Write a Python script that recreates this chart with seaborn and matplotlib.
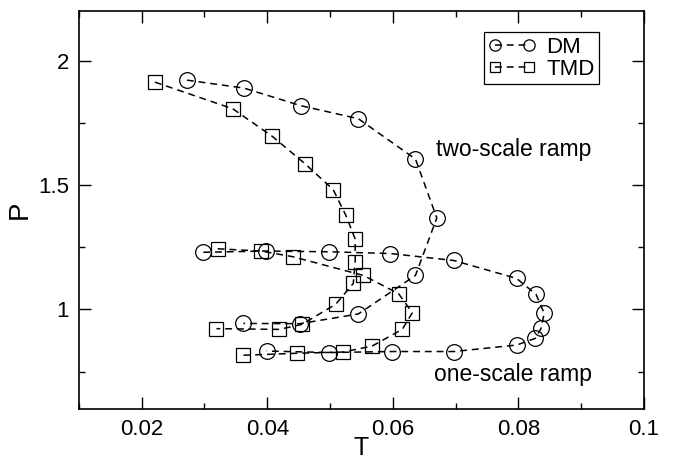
import matplotlib
matplotlib.use("Agg")
import matplotlib.pyplot as plt
import seaborn as sns
import numpy as np
import pandas as pd
from matplotlib.ticker import MultipleLocator, FixedLocator, FixedFormatter

# ---- data ----
dm_two_T = [0.0272, 0.0363, 0.0454, 0.0545, 0.0636, 0.0670, 0.0636, 0.0545, 0.0452, 0.0362]
dm_two_P = [1.922, 1.890, 1.819, 1.767, 1.605, 1.368, 1.137, 0.982, 0.943, 0.944]

tmd_two_T = [0.0221, 0.0345, 0.0408, 0.0460, 0.0505, 0.0525, 0.0540, 0.0540, 0.0537, 0.0509, 0.0455, 0.0419, 0.0319]
tmd_two_P = [1.914, 1.807, 1.696, 1.586, 1.482, 1.379, 1.283, 1.192, 1.105, 1.021, 0.940, 0.920, 0.923]

dm_one_T = [0.0298, 0.0398, 0.0498, 0.0596, 0.0697, 0.0797, 0.0828, 0.0841, 0.0836, 0.0827, 0.0797, 0.0697, 0.0598, 0.0498, 0.0399]
dm_one_P = [1.230, 1.235, 1.232, 1.225, 1.197, 1.125, 1.061, 0.985, 0.924, 0.884, 0.857, 0.831, 0.831, 0.827, 0.833]

tmd_one_T = [0.0321, 0.0390, 0.0441, 0.0553, 0.0609, 0.0631, 0.0615, 0.0567, 0.0521, 0.0447, 0.0361]
tmd_one_P = [1.244, 1.235, 1.212, 1.137, 1.064, 0.987, 0.920, 0.853, 0.829, 0.824, 0.816]

x_ticks = [0.02, 0.04, 0.06, 0.08, 0.1]
x_tick_labels = ["0.02", "0.04", "0.06", "0.08", "0.1"]
y_ticks = [1.0, 1.5, 2.0]
y_tick_labels = ["1", "1.5", "2"]

sns.set_theme(style="ticks")
plt.rcParams['font.family'] = ['Liberation Sans', 'DejaVu Sans']
plt.rcParams.update({"text.color": "black", "axes.labelcolor": "black",
                     "xtick.color": "black", "ytick.color": "black",
                     "axes.edgecolor": "black"})

fig = plt.figure(figsize=(6.75, 4.58), dpi=100)
ax = fig.add_axes([0.1169, 0.107, 0.8372, 0.869])

ls = (0, (4.5, 3.2))
common = dict(color="black", sort=False, estimator=None, linewidth=1.1,
              linestyle=ls, markerfacecolor="none", markeredgecolor="black",
              markeredgewidth=0.9, ax=ax)

sns.lineplot(x=dm_two_T, y=dm_two_P, marker="o", markersize=11.3, label="DM", **common)
sns.lineplot(x=tmd_two_T, y=tmd_two_P, marker="s", markersize=9.4, label="TMD", **common)
sns.lineplot(x=dm_one_T, y=dm_one_P, marker="o", markersize=11.3, label="_nolegend_", **common)
sns.lineplot(x=tmd_one_T, y=tmd_one_P, marker="s", markersize=9.4, label="_nolegend_", **common)

ax.set_xlim(0.01, 0.1)
ax.set_ylim(0.6, 2.2)
ax.xaxis.set_major_locator(FixedLocator(x_ticks))
ax.xaxis.set_major_formatter(FixedFormatter(x_tick_labels))
ax.xaxis.set_minor_locator(MultipleLocator(0.01))
ax.yaxis.set_major_locator(FixedLocator(y_ticks))
ax.yaxis.set_major_formatter(FixedFormatter(y_tick_labels))
ax.yaxis.set_minor_locator(MultipleLocator(0.25))

ax.tick_params(which="both", direction="in", top=True, right=True, colors="black",
               labelsize=16, width=1.0)
ax.tick_params(which="major", length=8.5, pad=7)
ax.tick_params(which="minor", length=4)
for s in ax.spines.values():
    s.set_linewidth(1.2)
    s.set_color("black")

ax.set_xlabel("T", fontsize=18, labelpad=-3)
ax.set_ylabel("P", fontsize=20, labelpad=4)

ax.text(0.0669, 1.642, "two-scale ramp", fontsize=16.5, ha="left", va="center")
ax.text(0.0665, 0.74, "one-scale ramp", fontsize=16.5, ha="left", va="center")

leg = ax.legend(loc="upper right", bbox_to_anchor=(0.921, 0.9465), borderaxespad=0,
                fontsize=16, numpoints=2, handlelength=2.1, handletextpad=0.5,
                labelspacing=0.05, borderpad=0.2, markerscale=0.72,
                frameon=True, fancybox=False, framealpha=1, edgecolor="black")
leg.get_frame().set_linewidth(0.9)

fig.savefig("out.png", dpi=100)
